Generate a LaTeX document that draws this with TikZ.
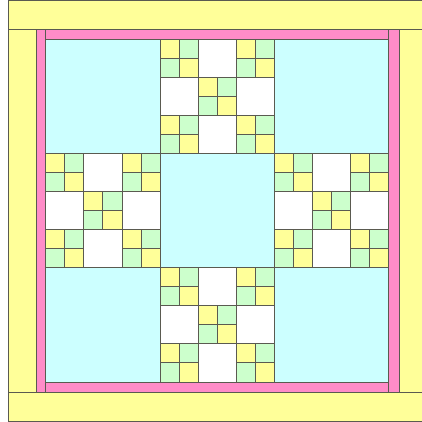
\documentclass[tikz,border=0pt]{standalone}
\definecolor{qyellow}{RGB}{255,255,153}
\definecolor{qpink}{RGB}{255,140,200}
\definecolor{qcyan}{RGB}{204,255,255}
\definecolor{qgreen}{RGB}{204,255,204}
\definecolor{qline}{RGB}{90,90,80}
\tikzset{
  patch/.style={draw=qline, line width=0.8pt},
  ypatch/.style={patch, fill=qyellow},
  gpatch/.style={patch, fill=qgreen},
  wpatch/.style={patch, fill=white},
  ppatch/.style={patch, fill=qpink},
  cpatch/.style={patch, fill=qcyan},
  fourpatch/.pic={
    \fill[qyellow] (0,0) rectangle (19.05,19.05);
    \draw[gpatch] (19.05,0) rectangle (38.1,19.05);
    \draw[gpatch] (0,19.05) rectangle (19.05,38.1);
    \draw[ypatch] (0,0) rectangle (19.05,19.05);
    \draw[ypatch] (19.05,19.05) rectangle (38.1,38.1);
  },
  ninepatch/.pic={
    \foreach \a/\b in {1/0,0/1,2/1,1/2}
      \draw[wpatch] (\a*38.1,\b*38.1) rectangle ++(38.1,38.1);
    \foreach \a/\b in {0/0,2/0,1/1,0/2,2/2}
      \pic at (\a*38.1,\b*38.1) {fourpatch};
  }
}
\begin{document}
\begin{tikzpicture}[x=1pt,y=-1pt]
\useasboundingbox (0,0) rectangle (422,422);
% outer yellow border
\draw[ypatch] (8,0.5) rectangle (424,29);
\draw[ypatch] (8,29) rectangle (36,392);
\draw[ypatch] (399,29) rectangle (424,392);
\draw[ypatch] (8,392) rectangle (424,421.5);
% pink border
\draw[ppatch] (36,29) rectangle (45.7,392);
\draw[ppatch] (388.6,29) rectangle (399,392);
\draw[ppatch] (45.7,29) rectangle (388.6,39);
\draw[ppatch] (45.7,381.9) rectangle (388.6,392);
% cyan field
\draw[cpatch] (45.7,39) rectangle (388.6,381.9);
\draw[cpatch] (160,153.3) rectangle (274.3,267.6);
% nine-patch blocks
\pic at (160,39) {ninepatch};
\pic at (45.7,153.3) {ninepatch};
\pic at (274.3,153.3) {ninepatch};
\pic at (160,267.6) {ninepatch};
\end{tikzpicture}
\end{document}
